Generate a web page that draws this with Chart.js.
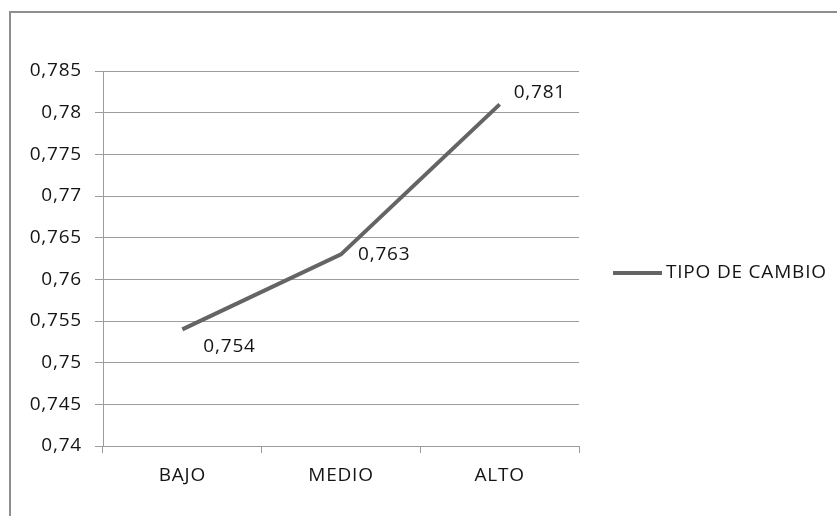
<!DOCTYPE html>
<html>
<head>
<meta charset="utf-8">
<title>Tipo de cambio</title>
<script src="https://cdn.jsdelivr.net/npm/chart.js@4"></script>
<style>
    html, body { margin: 0; padding: 0; background: #fff; }
    #wrap { position: relative; width: 837px; height: 516px; overflow: hidden; }
    #frame {
        position: absolute; left: 9px; top: 11px; width: 900px; height: 600px;
        border-left: 2px solid #8e8e8e; border-top: 2px solid #8e8e8e;
    }
    #tipoChart { position: absolute; left: 0; top: 0; }
</style>
</head>
<body>
<div id="wrap">
    <div id="frame"></div>
    <canvas id="tipoChart" width="837" height="516"></canvas>
</div>
<script>
// Series data
const categories = ['BAJO', 'MEDIO', 'ALTO'];
const tipoCambio = [0.754, 0.763, 0.781];
const seriesName = 'TIPO DE CAMBIO';
const yTicks = [0.74, 0.745, 0.75, 0.755, 0.76, 0.765, 0.77, 0.775, 0.78, 0.785];

const FONT = '"Open Sans", sans-serif';
const FONT_SIZE = 19;
const TEXT = '#141414';
const LINE = '#646464';
const GRID = '#9c9c9c';

// Decimal comma, no trailing zeros (0,78 / 0,785)
function fmt(v) {
    return String(parseFloat(v.toFixed(3))).replace('.', ',');
}

// Slightly wider text spacing for all canvas text
const spacing = {
    id: 'spacing',
    beforeDraw(chart) {
        chart.ctx.letterSpacing = '0.8px';
    }
};

// Value labels next to each point
const labelOffsets = [[21, 17], [17, 0], [14, -12]];
const valueLabels = {
    id: 'valueLabels',
    afterDatasetsDraw(chart) {
        const ctx = chart.ctx;
        const meta = chart.getDatasetMeta(0);
        ctx.save();
        ctx.font = FONT_SIZE + 'px ' + FONT;
        ctx.fillStyle = TEXT;
        ctx.textAlign = 'left';
        ctx.textBaseline = 'middle';
        meta.data.forEach((pt, i) => {
            const [dx, dy] = labelOffsets[i];
            ctx.fillText(fmt(chart.data.datasets[0].data[i]), pt.x + dx, pt.y + dy);
        });
        ctx.restore();
    }
};

// Legend on the right: short line sample plus series name
const sideLegend = {
    id: 'sideLegend',
    afterDraw(chart) {
        const ctx = chart.ctx;
        const x = chart.chartArea.right + 34;
        const y = 273;
        ctx.save();
        ctx.strokeStyle = LINE;
        ctx.lineWidth = 4;
        ctx.beginPath();
        ctx.moveTo(x, y);
        ctx.lineTo(x + 49, y);
        ctx.stroke();
        ctx.font = FONT_SIZE + 'px ' + FONT;
        ctx.fillStyle = TEXT;
        ctx.textBaseline = 'middle';
        ctx.fillText(chart.data.datasets[0].label, x + 53, y);
        ctx.restore();
    }
};

new Chart(document.getElementById('tipoChart'), {
    type: 'line',
    data: {
        labels: categories,
        datasets: [{
            label: seriesName,
            data: tipoCambio,
            borderColor: LINE,
            borderWidth: 4,
            borderCapStyle: 'butt',
            pointRadius: 0,
            tension: 0,
            fill: false
        }]
    },
    options: {
        responsive: false,
        animation: false,
        layout: { padding: { top: 71, right: 258, left: 0, bottom: 0 } },
        plugins: {
            legend: { display: false },
            tooltip: { enabled: false }
        },
        scales: {
            x: {
                offset: true,
                grid: {
                    offset: true,
                    drawOnChartArea: false,
                    drawTicks: true,
                    tickLength: 7,
                    color: GRID
                },
                border: { color: GRID },
                ticks: {
                    color: TEXT,
                    font: { family: FONT, size: FONT_SIZE },
                    padding: 11,
                    maxRotation: 0
                },
                afterFit(scale) { scale.height = 70; }
            },
            y: {
                min: 0.74,
                max: 0.785,
                afterBuildTicks(scale) {
                    scale.ticks = yTicks.map(v => ({ value: v }));
                },
                grid: {
                    color: GRID,
                    tickLength: 8
                },
                border: { color: GRID },
                ticks: {
                    color: TEXT,
                    font: { family: FONT, size: FONT_SIZE },
                    padding: 13,
                    callback: v => fmt(v)
                },
                afterFit(scale) { scale.width = 103; }
            }
        }
    },
    plugins: [spacing, valueLabels, sideLegend]
});
</script>
</body>
</html>
